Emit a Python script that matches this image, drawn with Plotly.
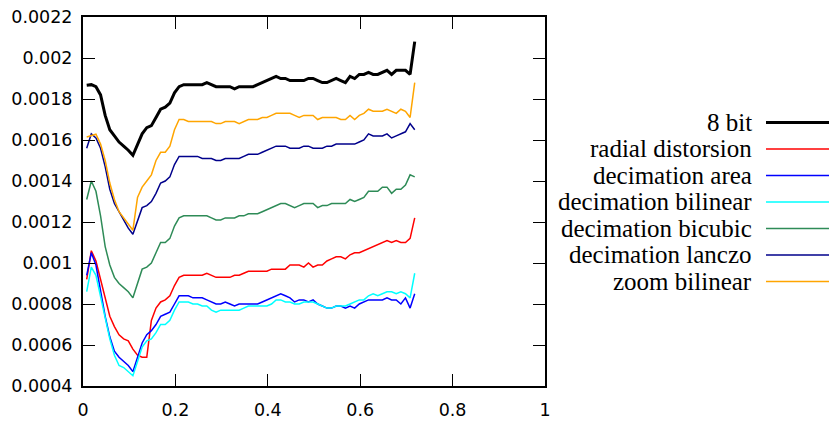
import plotly.graph_objects as go

X = [0.008, 0.018, 0.028, 0.038, 0.048, 0.058, 0.068, 0.078, 0.088, 0.098,
     0.108, 0.118, 0.128, 0.138, 0.148, 0.158, 0.168, 0.178, 0.188, 0.198,
     0.208, 0.218, 0.228, 0.238, 0.248, 0.258, 0.268, 0.278, 0.288, 0.298,
     0.308, 0.318, 0.328, 0.338, 0.348, 0.358, 0.368, 0.378, 0.388, 0.398,
     0.408, 0.418, 0.428, 0.438, 0.448, 0.458, 0.468, 0.478, 0.488, 0.498,
     0.508, 0.518, 0.528, 0.538, 0.548, 0.558, 0.568, 0.578, 0.588, 0.598,
     0.608, 0.618, 0.628, 0.638, 0.648, 0.658, 0.668, 0.678, 0.688, 0.698,
     0.708, 0.718]

bit8 = [0.001867, 0.00187, 0.00186, 0.00182, 0.00172, 0.00165, 0.00162, 0.00159, 0.00157, 0.00155,
        0.001525, 0.00158, 0.00163, 0.00166, 0.00167, 0.00171, 0.00175, 0.00176, 0.00178, 0.00183,
        0.00186, 0.00187, 0.00187, 0.00187, 0.00187, 0.00187, 0.00188, 0.00187, 0.00186, 0.00186,
        0.00186, 0.00186, 0.00185, 0.00186, 0.00186, 0.00186, 0.00186, 0.00187, 0.00188, 0.00189,
        0.00190, 0.00191, 0.00190, 0.00190, 0.00189, 0.00189, 0.00189, 0.00189, 0.00190, 0.00190,
        0.00189, 0.00188, 0.00188, 0.00189, 0.00190, 0.00189, 0.00188, 0.00191, 0.00190, 0.00192,
        0.00192, 0.00193, 0.00192, 0.00192, 0.00193, 0.00194, 0.00192, 0.00194, 0.00194, 0.00194,
        0.00192, 0.00208]

radial = [0.00092, 0.00106, 0.00101, 0.00092, 0.00082, 0.00074, 0.00069, 0.00065, 0.00063, 0.00062,
          0.00058, 0.00055, 0.00054, 0.00054, 0.00072, 0.00078, 0.00081, 0.00082, 0.00084, 0.00089,
          0.00093, 0.00094, 0.00094, 0.00094, 0.00094, 0.00094, 0.00095, 0.00094, 0.00093, 0.00093,
          0.00093, 0.00093, 0.00094, 0.00094, 0.00095, 0.00096, 0.00096, 0.00096, 0.00096, 0.00096,
          0.00097, 0.00097, 0.00097, 0.00097, 0.00099, 0.00099, 0.00099, 0.00098, 0.00100, 0.00098,
          0.00099, 0.00099, 0.00101, 0.00102, 0.00103, 0.00103, 0.00102, 0.00104, 0.00105, 0.00105,
          0.00106, 0.00107, 0.00108, 0.00109, 0.00110, 0.00111, 0.00110, 0.00111, 0.00110, 0.00110,
          0.00112, 0.00122]

dec_area = [0.00094, 0.00105, 0.00099, 0.00087, 0.00074, 0.00064, 0.00057, 0.00054, 0.00052, 0.00050,
            0.00047, 0.00054, 0.00061, 0.00065, 0.00067, 0.00070, 0.00074, 0.00075, 0.00076, 0.00080,
            0.00084, 0.00084, 0.00084, 0.00083, 0.00083, 0.00083, 0.00082, 0.00081, 0.00080, 0.00080,
            0.00081, 0.00080, 0.00079, 0.00080, 0.00080, 0.00080, 0.00080, 0.00080, 0.00081, 0.00082,
            0.00083, 0.00084, 0.00085, 0.00084, 0.00083, 0.00081, 0.00082, 0.00082, 0.00081, 0.00082,
            0.00080, 0.00079, 0.00078, 0.00078, 0.00079, 0.00079, 0.00078, 0.00079, 0.00078, 0.00080,
            0.00081, 0.00082, 0.00082, 0.00082, 0.00082, 0.00083, 0.00082, 0.00082, 0.00080, 0.00083,
            0.00078, 0.00085]

dec_bilinear = [0.00086, 0.00098, 0.00094, 0.00084, 0.00073, 0.00063, 0.00055, 0.00050, 0.00049, 0.00047,
                0.00045, 0.00052, 0.00059, 0.00062, 0.00063, 0.00066, 0.00070, 0.00070, 0.00072, 0.00077,
                0.00081, 0.00081, 0.00081, 0.00080, 0.00080, 0.00079, 0.00079, 0.00077, 0.00076, 0.00077,
                0.00077, 0.00077, 0.00077, 0.00077, 0.00078, 0.00079, 0.00079, 0.00079, 0.00079, 0.00079,
                0.00080, 0.00082, 0.00082, 0.00081, 0.00081, 0.00080, 0.00080, 0.00081, 0.00081, 0.00081,
                0.00080, 0.00079, 0.00078, 0.00078, 0.00079, 0.00079, 0.00079, 0.00080, 0.00081, 0.00082,
                0.00082, 0.00084, 0.00085, 0.00084, 0.00085, 0.00086, 0.00086, 0.00085, 0.00086, 0.00085,
                0.00083, 0.00095]

dec_bicubic = [0.00131, 0.00140, 0.00135, 0.00123, 0.00108, 0.00099, 0.00093, 0.00090, 0.00088, 0.00086,
               0.00083, 0.00090, 0.00097, 0.00098, 0.00100, 0.00105, 0.00110, 0.00110, 0.00112, 0.00118,
               0.00122, 0.00123, 0.00123, 0.00123, 0.00123, 0.00123, 0.00123, 0.00122, 0.00121, 0.00121,
               0.00122, 0.00122, 0.00122, 0.00123, 0.00123, 0.00124, 0.00124, 0.00124, 0.00125, 0.00126,
               0.00127, 0.00128, 0.00129, 0.00129, 0.00128, 0.00127, 0.00128, 0.00129, 0.00129, 0.00129,
               0.00127, 0.00128, 0.00128, 0.00129, 0.00129, 0.00129, 0.00129, 0.00131, 0.00130, 0.00131,
               0.00132, 0.00135, 0.00135, 0.00135, 0.00137, 0.00137, 0.00134, 0.00136, 0.00136, 0.00138,
               0.00143, 0.00142]

dec_lanczo = [0.00156, 0.00163, 0.00161, 0.00156, 0.00147, 0.00136, 0.00129, 0.00125, 0.00121, 0.00117,
              0.00114, 0.00121, 0.00127, 0.00128, 0.00130, 0.00134, 0.00139, 0.00140, 0.00142, 0.00148,
              0.00152, 0.00152, 0.00152, 0.00152, 0.00152, 0.00151, 0.00151, 0.00151, 0.00150, 0.00150,
              0.00151, 0.00151, 0.00151, 0.00151, 0.00152, 0.00153, 0.00153, 0.00153, 0.00154, 0.00155,
              0.00156, 0.00157, 0.00157, 0.00157, 0.00156, 0.00156, 0.00156, 0.00157, 0.00157, 0.00156,
              0.00156, 0.00156, 0.00157, 0.00157, 0.00158, 0.00158, 0.00158, 0.00158, 0.00158, 0.00159,
              0.00160, 0.00163, 0.00162, 0.00162, 0.00162, 0.00163, 0.00161, 0.00162, 0.00163, 0.00164,
              0.00168, 0.00165]

zoom_bilinear = [0.001615, 0.001623, 0.001628, 0.00158, 0.00150, 0.00139, 0.00131, 0.00125, 0.00122, 0.00119,
                 0.00116, 0.00132, 0.00137, 0.00140, 0.00143, 0.00150, 0.00154, 0.00154, 0.00157, 0.00165,
                 0.00170, 0.00170, 0.00169, 0.00169, 0.00169, 0.00169, 0.00169, 0.00169, 0.00168, 0.00168,
                 0.00169, 0.00169, 0.00169, 0.00168, 0.00169, 0.00170, 0.00170, 0.00170, 0.00171, 0.00171,
                 0.00172, 0.00173, 0.00173, 0.00173, 0.00173, 0.00172, 0.00171, 0.00172, 0.00172, 0.00172,
                 0.00170, 0.00171, 0.00171, 0.00171, 0.00171, 0.00170, 0.00170, 0.00172, 0.00170, 0.00172,
                 0.00173, 0.00175, 0.00174, 0.00174, 0.00174, 0.00175, 0.00174, 0.00173, 0.00175, 0.00174,
                 0.00171, 0.00188]

names = ["8 bit", "radial distorsion", "decimation area", "decimation bilinear",
         "decimation bicubic", "decimation lanczo", "zoom bilinear"]
series = [bit8, radial, dec_area, dec_bilinear, dec_bicubic, dec_lanczo, zoom_bilinear]
colors = ["#000000", "#ff0000", "#0000ff", "#00ffff", "#2e8b57", "#00008b", "#ffa500"]
widths = [3, 1.5, 1.5, 1.5, 1.5, 1.5, 1.5]

x_ticks = [0, 0.2, 0.4, 0.6, 0.8, 1]
x_tick_text = ["0", "0.2", "0.4", "0.6", "0.8", "1"]
y_ticks = [0.0004, 0.0006, 0.0008, 0.001, 0.0012, 0.0014, 0.0016, 0.0018, 0.002, 0.0022]
y_tick_text = ["0.0004", "0.0006", "0.0008", "0.001", "0.0012", "0.0014", "0.0016", "0.0018", "0.002", "0.0022"]

fig = go.Figure()
for name, ys, c, w in zip(names, series, colors, widths):
    fig.add_trace(go.Scatter(x=X, y=ys, mode="lines", name=name,
                             line=dict(color=c, width=w), showlegend=False))

TICK_FONT = dict(family="DejaVu Sans", size=17.5, color="#000000")
axis_common = dict(showgrid=False, zeroline=False, showline=True, linecolor="#000000",
                   linewidth=2, mirror="ticks", ticks="inside", ticklen=12, tickwidth=1,
                   tickcolor="#000000", tickfont=TICK_FONT, automargin=False)
fig.update_xaxes(range=[0, 1], tickvals=x_ticks, ticktext=x_tick_text,
                 ticklabelstandoff=7, **axis_common)
fig.update_yaxes(range=[0.0004, 0.0022], tickvals=y_ticks, ticktext=y_tick_text,
                 ticklabelstandoff=5, **axis_common)

# custom legend: text on the left, sample line on the right
L, R, T, B = 83, 286, 17, 36
pw, ph = 831 - L - R, 422 - T - B
legend_top = 122.5
legend_step = 26.5
shapes = []
annotations = []
for i, (name, c, w) in enumerate(zip(names, colors, widths)):
    ypx = legend_top + i * legend_step
    yp = (422 - B - ypx) / ph
    annotations.append(dict(x=(754 - L) / pw, y=yp, xref="paper", yref="paper",
                            text=name, showarrow=False, xanchor="right", yanchor="middle",
                            font=dict(family="'Liberation Serif', 'DejaVu Serif', serif",
                                      size=25, color="#000000")))
    shapes.append(dict(type="line", xref="paper", yref="paper",
                       x0=(766 - L) / pw, x1=(829 - L) / pw, y0=yp, y1=yp,
                       line=dict(color=c, width=w)))

fig.update_layout(width=831, height=422, margin=dict(l=L, r=R, t=T, b=B),
                  plot_bgcolor="white", paper_bgcolor="white",
                  shapes=shapes, annotations=annotations)

fig.write_html("out.html")
